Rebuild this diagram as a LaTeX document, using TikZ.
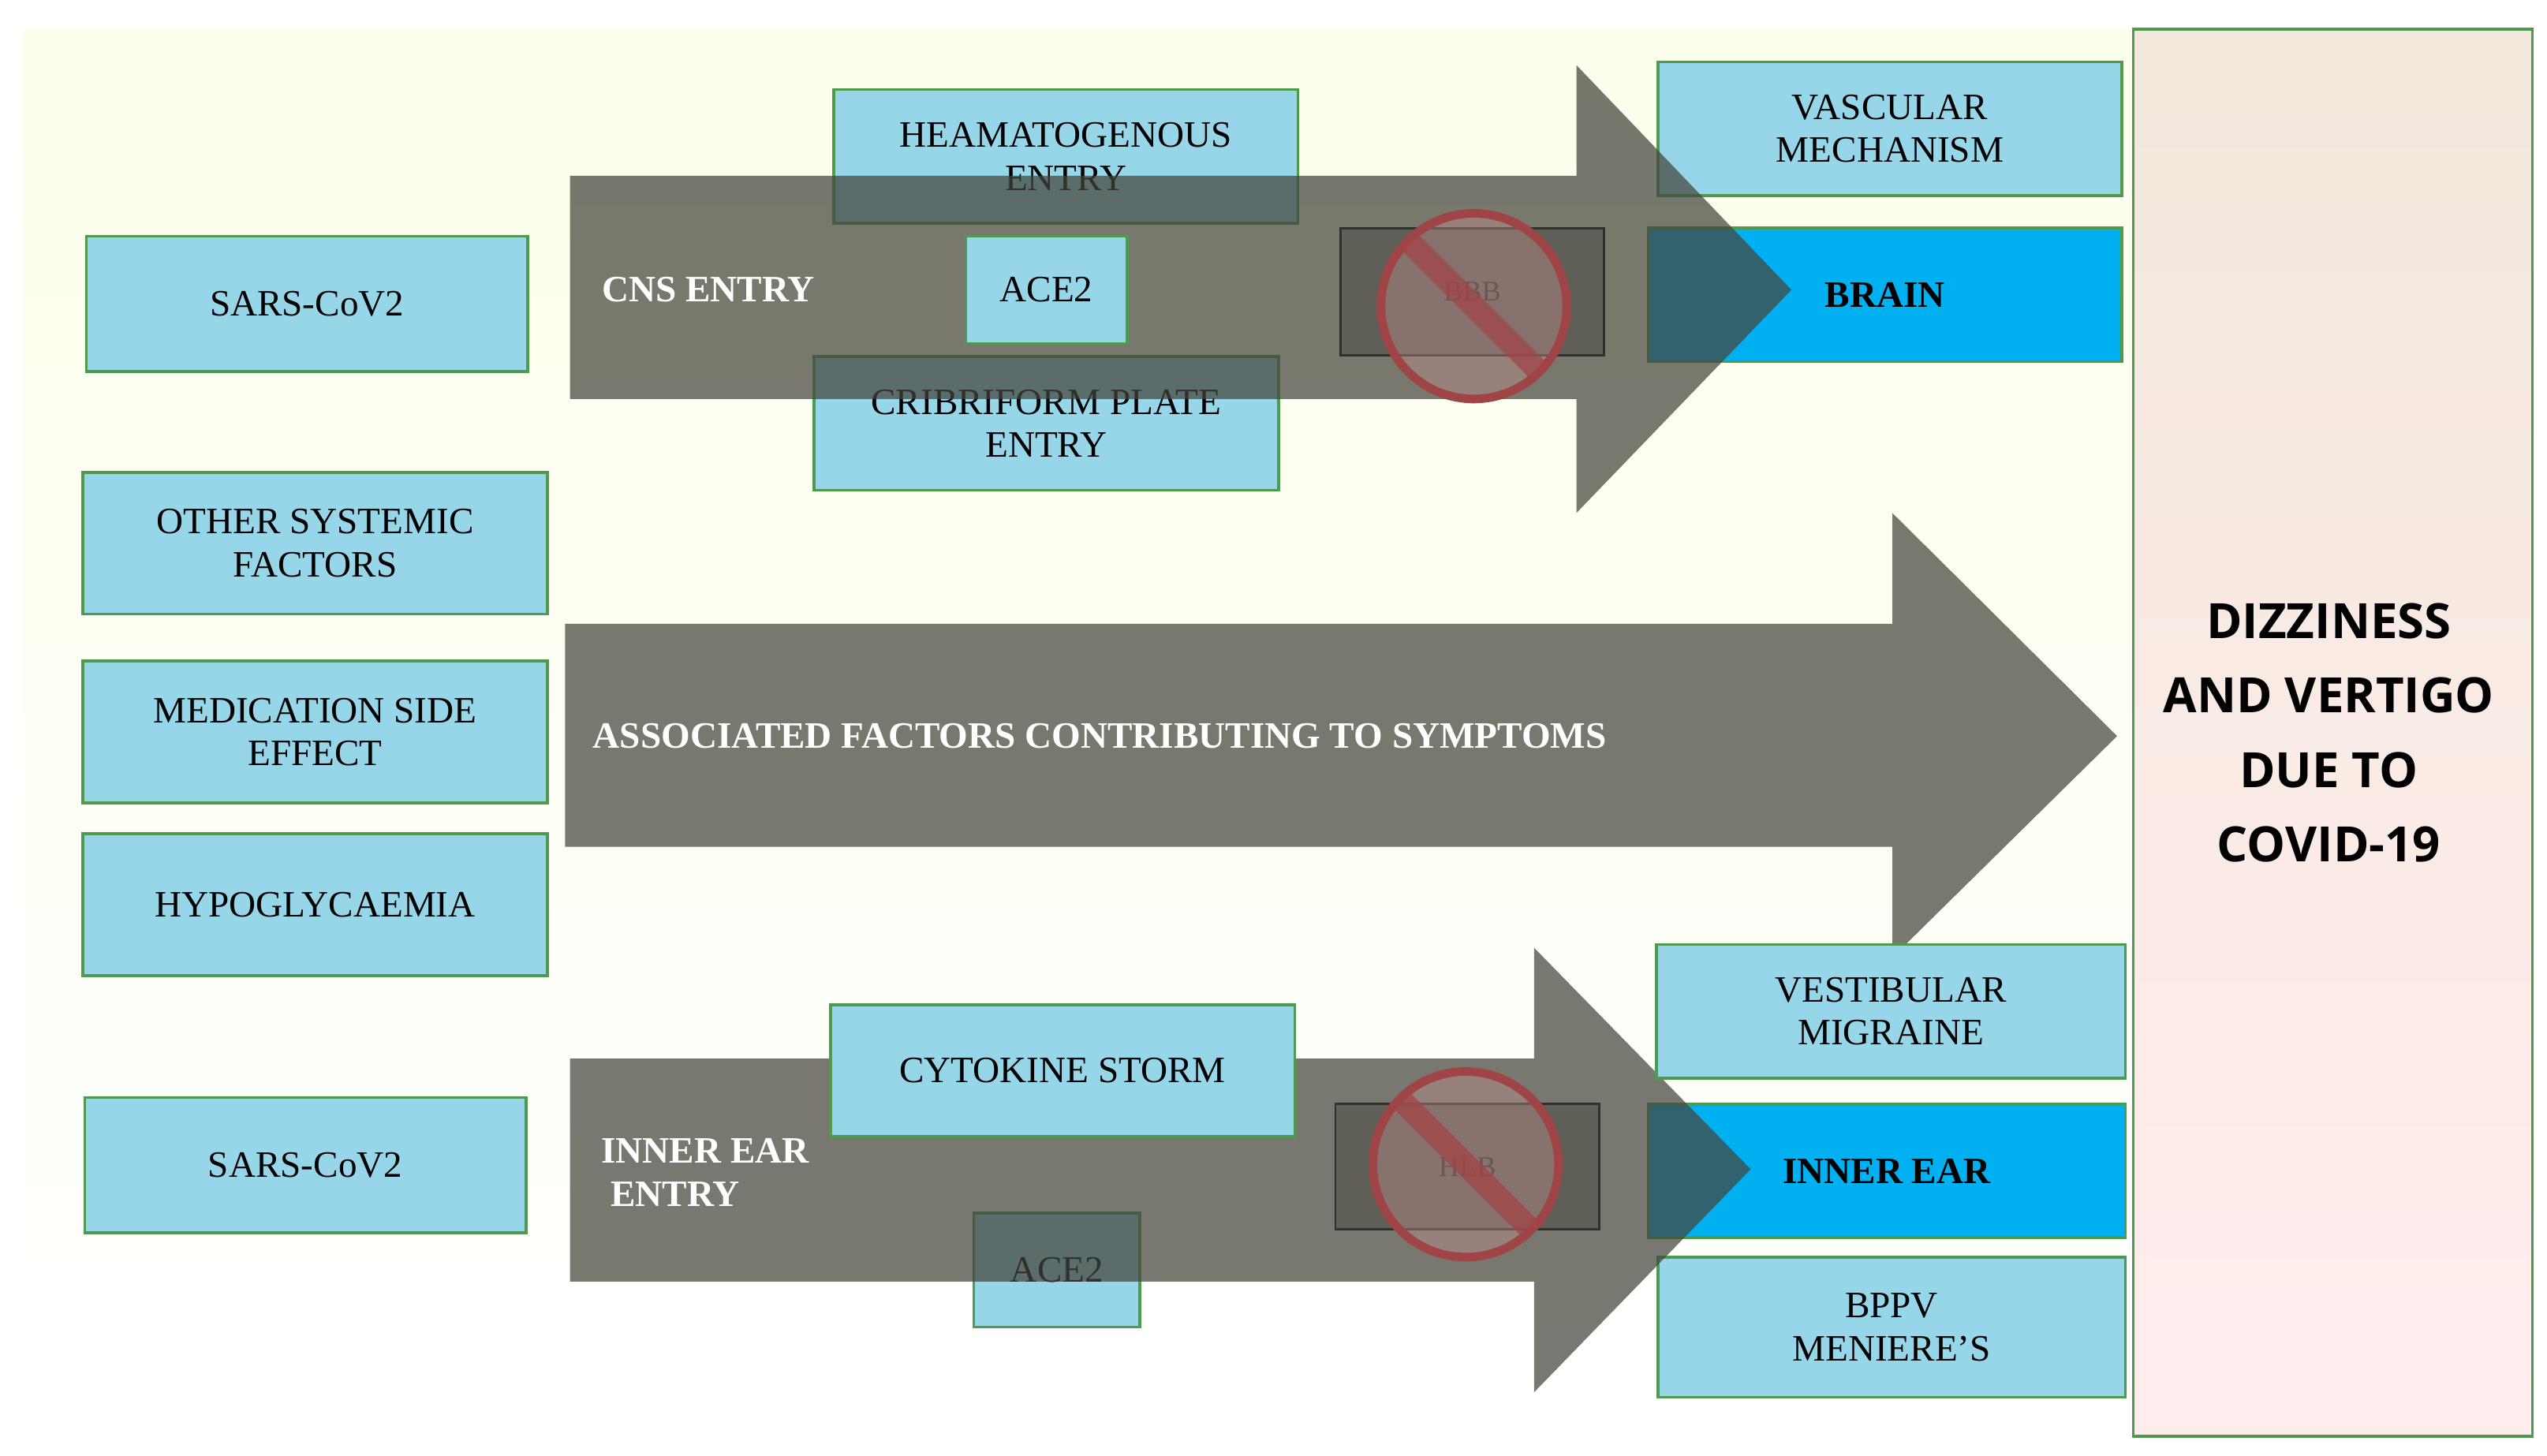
\documentclass[tikz,border=0pt]{standalone}
\usepackage{fontspec}
\setmainfont{Liberation Serif}
\newfontfamily\hsans{Open Sans}
\definecolor{lb}{HTML}{96D6E8}
\definecolor{hb}{HTML}{00B0F0}
\definecolor{bd}{HTML}{4E9A4E}
\definecolor{ag}{HTML}{45453C}
\definecolor{rs}{HTML}{A04545}
\begin{document}
\begin{tikzpicture}[x=0.02cm,y=-0.02cm,
 box/.style={draw=bd,line width=1pt,fill=lb,align=center,font=\fontsize{13}{15}\selectfont,inner sep=0pt},
 hbox/.style={box,fill=hb,font=\bfseries\fontsize{13}{15}\selectfont},
 gbox/.style={draw=black,line width=0.8pt,fill=gray!70,inner sep=0pt},
 arr/.style={fill=ag,opacity=0.72},
 atext/.style={text=white,font=\bfseries\fontsize{13}{15}\selectfont,align=left},
 nosign/.style={draw=rs,line width=3pt,fill=rs!60!white,fill opacity=0.4}]
\useasboundingbox (0,0) rectangle (1564,894);
\fill[white] (0,0) rectangle (1564,894);
\shade[top color=green!14!yellow!8!white,bottom color=white] (14,18) rectangle (1310,880);
% boxes under arrows
\node[box,minimum width=271*0.02cm,minimum height=83*0.02cm] (s1) at (188.5,186.5) {SARS-CoV2};
\node[box,minimum width=285*0.02cm,minimum height=87*0.02cm] (o) at (193.5,333.5) {OTHER SYSTEMIC\\FACTORS};
\node[box,minimum width=285*0.02cm,minimum height=87*0.02cm] (m) at (193.5,449.5) {MEDICATION SIDE\\EFFECT};
\node[box,minimum width=285*0.02cm,minimum height=87*0.02cm] (h) at (193.5,555.5) {HYPOGLYCAEMIA};
\node[box,minimum width=271*0.02cm,minimum height=83*0.02cm] (s2) at (187.5,715.5) {SARS-CoV2};
\node[box,minimum width=285*0.02cm,minimum height=82*0.02cm] (he) at (654.5,96) {HEAMATOGENOUS\\ENTRY};
\node[box,minimum width=285*0.02cm,minimum height=82*0.02cm] (cr) at (642.5,260) {CRIBRIFORM PLATE\\ENTRY};
\node[box,minimum width=102*0.02cm,minimum height=70*0.02cm] (a2) at (649,780) {ACE2};
\node[gbox,minimum width=162*0.02cm,minimum height=78*0.02cm] (bbb) at (904,179) {BBB};
\node[gbox,minimum width=162*0.02cm,minimum height=77*0.02cm] (hlb) at (901,716.5) {HLB};
\node[box,minimum width=285*0.02cm,minimum height=82*0.02cm] (vm) at (1160.5,79) {VASCULAR\\MECHANISM};
\node[hbox,minimum width=291*0.02cm,minimum height=82*0.02cm] (br) at (1157.5,181) {BRAIN};
\node[hbox,minimum width=293*0.02cm,minimum height=82*0.02cm] (ie) at (1158.5,719) {INNER EAR};
\node[box,minimum width=287*0.02cm,minimum height=86*0.02cm] (bp) at (1161.5,815) {BPPV\\MENIERE’S};
% right box
\shade[top color=brown!18!white,bottom color=red!7!white,draw=bd,line width=1pt] (1310,18) rectangle (1555,882);
\node[font=\hsans\bfseries\fontsize{17}{26}\selectfont,align=center] (dz) at (1430,450) {DIZZINESS\\AND VERTIGO\\DUE TO\\COVID-19};
% arrows
\fill[arr] (350,108) -- (968,108) -- (968,40) -- (1100,178) -- (968,315) -- (968,245) -- (350,245) -- cycle;
\fill[arr] (347,383) -- (1162,383) -- (1162,315) -- (1300,452) -- (1162,588) -- (1162,520) -- (347,520) -- cycle;
\fill[arr] (350,650) -- (942,650) -- (942,582) -- (1075,718) -- (942,855) -- (942,787) -- (350,787) -- cycle;
% boxes on top
\node[box,minimum width=99*0.02cm,minimum height=66*0.02cm] (a1) at (642.5,178) {ACE2};
\node[box,minimum width=285*0.02cm,minimum height=81*0.02cm] (cs) at (652.5,657.5) {CYTOKINE STORM};
\node[box,minimum width=288*0.02cm,minimum height=82*0.02cm] (vs) at (1161,621) {VESTIBULAR\\MIGRAINE};
% no signs
\foreach \cx/\cy in {905/188,900/715}{
 \draw[nosign] (\cx,\cy) circle (57*0.02cm);
 \draw[rs,line width=8pt,opacity=0.75] ([shift={(-40,-40)}]\cx,\cy) -- ([shift={(40,40)}]\cx,\cy);
}
% arrow texts
\node[atext] (t1) at (435,178) {CNS ENTRY};
\node[atext,anchor=west] (t2) at (358,452) {ASSOCIATED FACTORS CONTRIBUTING TO SYMPTOMS};
\node[atext] (t3) at (433,720) {INNER EAR\\\ ENTRY};
\end{tikzpicture}
\end{document}
